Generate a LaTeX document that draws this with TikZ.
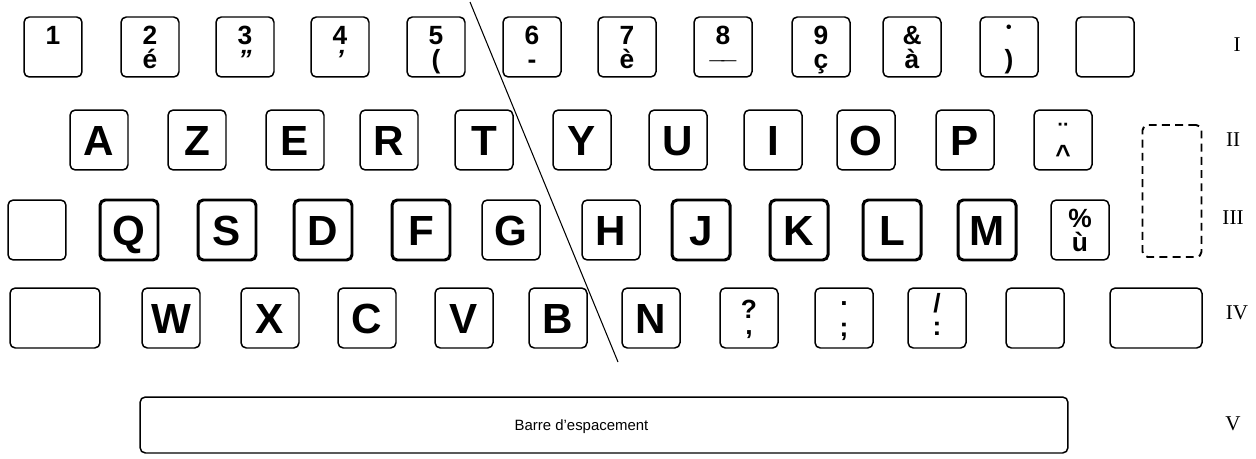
\documentclass[tikz,border=0pt]{standalone}
\usepackage{tikz}
\usepackage{fontspec}
\setmainfont{Liberation Sans}
\newfontfamily\rowfont{Liberation Serif}
% upper and lower sign of a key
\newcommand{\keyud}[2]{\makebox[0pt]{\raisebox{1.5pt}{#1}}\makebox[0pt]{\raisebox{-12.5pt}{#2}}}
\newcommand{\keyletter}[1]{\raisebox{-8.6pt}{#1}}

\begin{document}
\begin{tikzpicture}[x=0.02cm, y=-0.02cm,
    key/.style={draw, line width=0.85pt, rounded corners=3pt, minimum width=1.16cm,
        minimum height=1.2cm, inner sep=0pt, text height=0pt, text depth=0pt},
    signkey/.style={key, font=\fontsize{15}{15}\selectfont\bfseries},
    letterkey/.style={key, font=\fontsize{24}{24}\selectfont\bfseries},
    homekey/.style={letterkey, line width=1.7pt},
    widekey/.style={key, minimum width=1.8cm},
    rowlabel/.style={font=\rowfont\fontsize{12}{12}\selectfont}]
    \useasboundingbox (0,0) rectangle (1256,459);

    % Row I
    \node[signkey] (k1) at (53,47) {\keyud{1}{}};
    \node[signkey] (k2) at (150,47) {\keyud{2}{é}};
    \node[signkey] (k3) at (245,47) {\keyud{3}{\itshape\char"22}};
    \node[signkey] (k4) at (340,47) {\keyud{4}{\itshape\char"27}};
    \node[signkey] (k5) at (436,47) {\keyud{5}{(}};
    \node[signkey] (k6) at (532,47) {\keyud{6}{-}};
    \node[signkey] (k7) at (627,47) {\keyud{7}{è}};
    \node[signkey] (k8) at (723,47) {\keyud{8}{\raisebox{6pt}{\_\kern-1.5pt\_}}};
    \node[signkey] (k9) at (821,47) {\keyud{9}{ç}};
    \node[signkey] (kamp) at (912,47) {\keyud{\&}{à}};
    \node[signkey] (kpar) at (1009,47) {\keyud{\raisebox{6.5pt}{\fontsize{9}{9}\selectfont\textbullet}}{)}};
    \node[key] (kendI) at (1105,47) {};

    % Row II
    \node[letterkey] (kA) at (99,140) {\keyletter{A}};
    \node[letterkey] (kZ) at (197,140) {\keyletter{Z}};
    \node[letterkey] (kE) at (295,140) {\keyletter{E}};
    \node[letterkey] (kR) at (389,140) {\keyletter{R}};
    \node[letterkey] (kT) at (484,140) {\keyletter{T}};
    \node[letterkey] (kY) at (582,140) {\keyletter{Y}};
    \node[letterkey] (kU) at (678,140) {\keyletter{U}};
    \node[letterkey] (kI) at (773,140) {\keyletter{I}};
    \node[letterkey] (kO) at (866,140) {\keyletter{O}};
    \node[letterkey] (kP) at (965,140) {\keyletter{P}};
    \node[signkey] (kcirc) at (1063,140) {\keyud{\raisebox{-2.5pt}{¨}}{\raisebox{-1pt}{\textasciicircum}}};

    % Row III
    \node[key] (kstartIII) at (37,230) {};
    \node[homekey] (kQ) at (129,230) {\keyletter{Q}};
    \node[homekey] (kS) at (227,230) {\keyletter{S}};
    \node[homekey] (kD) at (323,230) {\keyletter{D}};
    \node[homekey] (kF) at (421,230) {\keyletter{F}};
    \node[letterkey] (kG) at (511,230) {\keyletter{G}};
    \node[letterkey] (kH) at (611,230) {\keyletter{H}};
    \node[homekey] (kJ) at (701,230) {\keyletter{J}};
    \node[homekey] (kK) at (799,230) {\keyletter{K}};
    \node[homekey] (kL) at (892,230) {\keyletter{L}};
    \node[homekey] (kM) at (987,230) {\keyletter{M}};
    \node[signkey] (kpct) at (1080,230) {\keyud{\%}{ù}};

    % Return key (dashed)
    \node[key, dashed, dash pattern=on 4.5pt off 3pt, line width=1.1pt,
        minimum width=1.18cm, minimum height=2.64cm] (kret) at (1172,191) {};

    % Row IV
    \node[widekey] (kshiftl) at (55,318) {};
    \node[letterkey] (kW) at (171,318) {\keyletter{W}};
    \node[letterkey] (kX) at (270,318) {\keyletter{X}};
    \node[letterkey] (kC) at (367,318) {\keyletter{C}};
    \node[letterkey] (kV) at (464,318) {\keyletter{V}};
    \node[letterkey] (kB) at (558,318) {\keyletter{B}};
    \node[letterkey] (kN) at (651,318) {\keyletter{N}};
    \node[signkey] (kquest) at (749,318) {\keyud{\raisebox{-2pt}{?}}{\raisebox{3pt}{,}}};
    \node[signkey] (kdot) at (844,318) {\keyud{\raisebox{5.5pt}{.}}{\raisebox{2pt}{;}}};
    \node[signkey] (kslash) at (937,318) {\keyud{\raisebox{1.5pt}{/}}{\raisebox{2.5pt}{:}}};
    \node[key] (kendIV) at (1035,318) {};
    \node[widekey, minimum width=1.84cm] (kshiftr) at (1156,318) {};

    % Space bar
    \node[key, minimum width=18.56cm, minimum height=1.12cm,
        font=\fontsize{8.5}{8.5}\selectfont] (kspace) at (604,425) {\kern-0.9cm\raisebox{-3pt}{Barre d'espacement}};

    % Left/right split
    \coordinate (cuttop) at (470,2);
    \coordinate (cutbot) at (618,362);
    \draw[line width=0.6pt] (cuttop) -- (cutbot);

    % Row numbers
    \node[rowlabel] (rI) at (1237,45) {I};
    \node[rowlabel] (rII) at (1233,140) {II};
    \node[rowlabel] (rIII) at (1233,218) {III};
    \node[rowlabel] (rIV) at (1237,313) {IV};
    \node[rowlabel] (rV) at (1233,424) {V};
\end{tikzpicture}
\end{document}
